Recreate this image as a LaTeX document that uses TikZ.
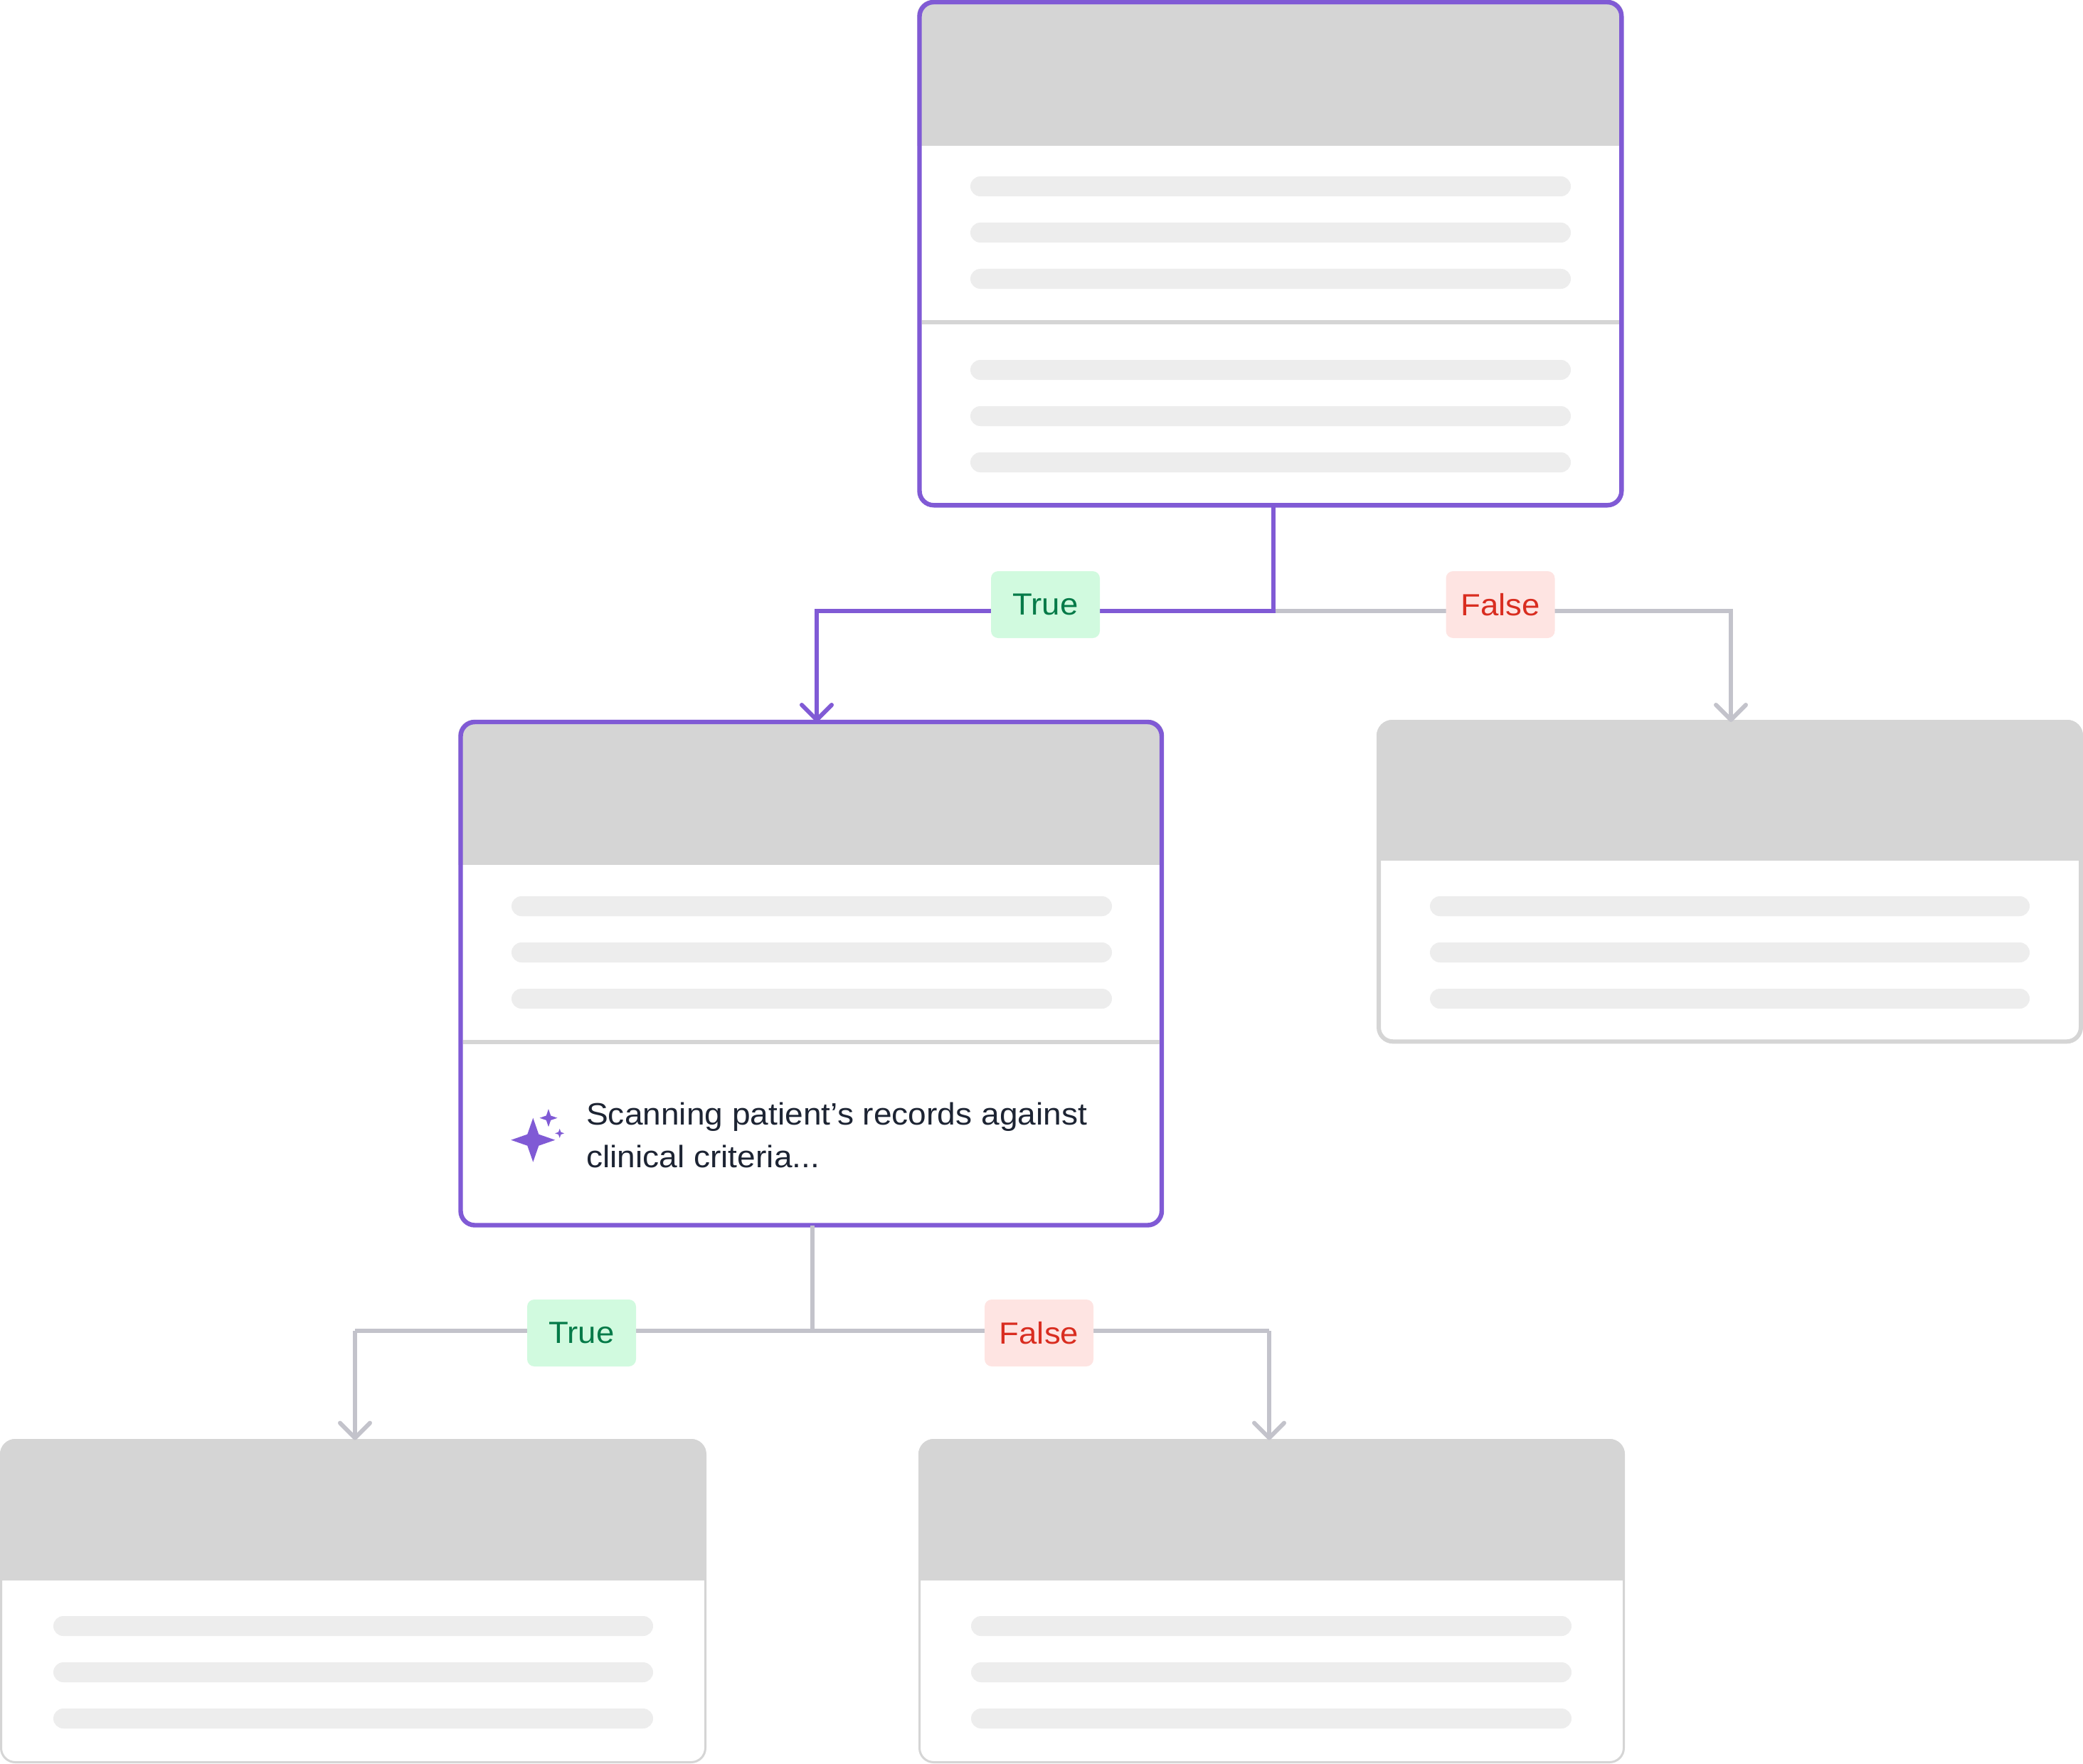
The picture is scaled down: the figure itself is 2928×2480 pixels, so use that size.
\documentclass[tikz,border=0pt]{standalone}
\usepackage{fontspec}
\setmainfont[FakeStretch=1.06]{Liberation Sans}
\usetikzlibrary{arrows.meta,calc}
\definecolor{purp}{HTML}{805AD5}
\definecolor{headgray}{HTML}{D5D5D5}
\definecolor{bargray}{HTML}{EDEDED}
\definecolor{conngray}{HTML}{C3C3CB}
\definecolor{greenbg}{HTML}{D1FADF}
\definecolor{greentx}{HTML}{047A48}
\definecolor{redbg}{HTML}{FEE4E2}
\definecolor{redtx}{HTML}{D92D20}
\definecolor{inktx}{HTML}{1D2433}
\tikzset{
  x=1pt,y=-1pt,
  cardbox/.style={rectangle,rounded corners=20pt,inner sep=0pt,outer sep=0pt},
  barshape/.style={fill=bargray,rounded corners=14pt},
  conn/.style={line width=6.4pt,draw=conngray,line join=miter},
  connhi/.style={line width=6.4pt,draw=purp,line join=miter},
  arrowed/.style={-{Straight Barb[length=21pt,width=42pt,line width=6pt,round]}},
  dividerline/.style={draw=headgray,line width=6.4pt},
  tagbox/.style={rectangle,rounded corners=10pt,minimum width=153pt,minimum height=94pt,inner sep=0pt,font=\fontsize{43}{50}\selectfont},
  truetag/.style={tagbox,fill=greenbg,text=greentx},
  falsetag/.style={tagbox,fill=redbg,text=redtx},
}
% name, stroke colour, left, top, right, bottom, header bottom, stroke width
\newcommand{\cardat}[8]{%
  \begin{scope}
    \clip[rounded corners=22pt] ($(#3,#4)+(-#8/2,-#8/2)$) rectangle ($(#5,#6)+(#8/2,#8/2)$);
    \fill[white] (#3,#4) rectangle (#5,#6);
    \fill[headgray] ($(#3,#4)+(-#8/2,-#8/2)$) rectangle ($(#5,#7)+(#8/2,0)$);
  \end{scope}
  \pgfmathsetmacro{\cw}{#5-#3}\pgfmathsetmacro{\ch}{#6-#4}
  \node[cardbox,draw=#2,line width=#8pt,minimum width=\cw pt,minimum height=\ch pt] (#1) at ($(#3,#4)!0.5!(#5,#6)$) {};
}
% left, right, y
\newcommand{\barat}[3]{\fill[barshape] (#1,#3) rectangle (#2,#3+28);}
\newcommand{\sparkle}[4]{% cx, cy, radius, waist
  \fill[purp] (#1-#3,#2) -- (#1-#4,#2-#4) -- (#1,#2-#3) -- (#1+#4,#2-#4) -- (#1+#3,#2)
   -- (#1+#4,#2+#4) -- (#1,#2+#3) -- (#1-#4,#2+#4) -- cycle;}
\begin{document}
\begin{tikzpicture}
\useasboundingbox (0,0) rectangle (2928,2480);
% junction coordinates
\coordinate (j1) at (1790,859);
\coordinate (j1l) at (1148,859);
\coordinate (j1r) at (2433,859);
\coordinate (j2) at (1142,1871);
\coordinate (j2l) at (499,1871);
\coordinate (j2r) at (1784,1871);
% cards
\cardat{cardA}{purp}{1292.5}{3}{2279.3}{710.3}{205}{6.4}
\cardat{cardB}{purp}{647.5}{1015}{1633}{1722.5}{1216}{6.4}
\cardat{cardC}{headgray}{1938}{1015}{2925}{1464.3}{1210}{6}
\cardat{cardD}{headgray}{1.5}{2024.5}{991.5}{2477.5}{2222}{3}
\cardat{cardE}{headgray}{1292.5}{2024.5}{2282.5}{2477.5}{2222}{3}
% dividers
\draw[dividerline] (1295.7,453) -- (2276.2,453);
\draw[dividerline] (650.7,1465) -- (1629.9,1465);
% bars
\barat{1364}{2208}{248}\barat{1364}{2208}{313}\barat{1364}{2208}{378}
\barat{1364}{2208}{506}\barat{1364}{2208}{571}\barat{1364}{2208}{636}
\barat{719}{1563}{1260}\barat{719}{1563}{1325}\barat{719}{1563}{1390}
\barat{2010}{2853}{1260}\barat{2010}{2853}{1325}\barat{2010}{2853}{1390}
\barat{75}{918}{2272}\barat{75}{918}{2337}\barat{75}{918}{2402}
\barat{1365}{2209}{2272}\barat{1365}{2209}{2337}\barat{1365}{2209}{2402}
% connectors
\draw[conn] (j1) -- (j1r) -- ($(j1r |- cardC.north)+(0,-10)$);
\draw[conn,arrowed] (j1r) -- (j1r |- cardC.north);
\draw[connhi] (j1 |- cardA.south) -- (j1) -- (j1l) -- ($(j1l |- cardB.north)+(0,-10)$);
\draw[connhi,arrowed] (j1l) -- (j1l |- cardB.north);
\draw[conn] (j2 |- cardB.south) -- (j2);
\draw[conn] (j2l) -- (j2r);
\draw[conn] (j2l) -- ($(j2l |- cardD.north)+(0,-10)$);
\draw[conn] (j2r) -- ($(j2r |- cardE.north)+(0,-10)$);
\draw[conn,arrowed] (j2l) -- (j2l |- cardD.north);
\draw[conn,arrowed] (j2r) -- (j2r |- cardE.north);
% tags
\node[truetag] (t1) at (1469.5,850) {True};
\node[falsetag] (f1) at (2109,850) {False};
\node[truetag] (t2) at (817.5,1874) {True};
\node[falsetag] (f2) at (1460.5,1874) {False};
% status
\sparkle{749.3}{1602.7}{31}{8}
\sparkle{771}{1571.7}{12.5}{3.2}
\sparkle{786.7}{1593.3}{6.5}{1.7}
\node[anchor=west,align=left,inner sep=0pt,text=inktx,font=\fontsize{43.5}{60}\selectfont] (status) at (824,1596) {Scanning patient’s records against\\clinical criteria...};
\end{tikzpicture}
\end{document}
